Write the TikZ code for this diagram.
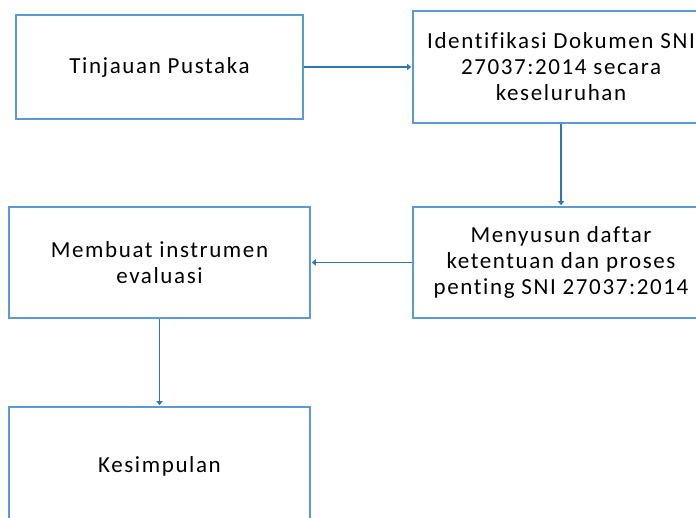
\documentclass[tikz,border=0pt]{standalone}
\usepackage{fontspec}
\setmainfont{Carlito}[LetterSpace=7, Ligatures={NoCommon,NoContextual}]
\usepackage{tikz}
\usetikzlibrary{arrows.meta}
\definecolor{boxblue}{HTML}{5B9BD5}
\definecolor{lineblue}{HTML}{2E75B6}

\begin{document}
\begin{tikzpicture}[x=1pt, y=-1pt,
    box/.style={draw=boxblue, line width=1.6pt, align=center, inner sep=0pt,
        font=\fontsize{23}{26}\selectfont},
    flow/.style={draw=lineblue, line width=1.6pt, -{Triangle[width=6pt,length=4pt]}, shorten >=1pt}]
    \useasboundingbox (0,0) rectangle (696,518);
    \clip (0,0) rectangle (696,518);
    \node [box, minimum width=287pt, minimum height=104pt] (tinjauan) at (159.5,67) {Tinjauan Pustaka};
    \node [box, minimum width=296pt, minimum height=112pt] (identifikasi) at (561,67) {Identifikasi Dokumen SNI\\27037:2014 secara\\keseluruhan};
    \node [box, minimum width=296pt, minimum height=111pt] (menyusun) at (561,262.5) {Menyusun daftar\\ketentuan dan proses\\penting SNI 27037:2014};
    \node [box, minimum width=301pt, minimum height=111pt] (instrumen) at (159.5,262.5) {Membuat instrumen\\evaluasi};
    \node [box, minimum width=301pt, minimum height=118pt] (kesimpulan) at (159.5,466) {Kesimpulan};
    \draw [flow] (tinjauan.east) -- (tinjauan.east -| identifikasi.west);
    \draw [flow] (identifikasi) -- (menyusun);
    \draw [flow] (menyusun) -- (instrumen);
    \draw [flow] (instrumen) -- (kesimpulan);
\end{tikzpicture}
\end{document}
